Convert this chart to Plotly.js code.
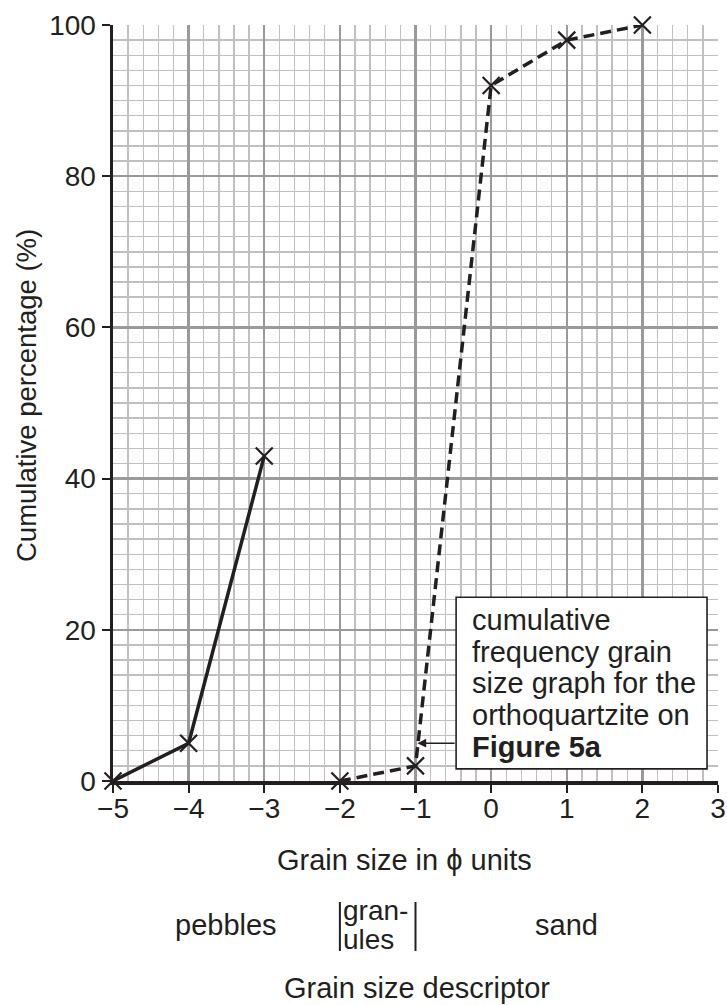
<!DOCTYPE html>
<html>
<head>
<meta charset="utf-8">
<script src="https://cdn.plot.ly/plotly-3.0.1.min.js"></script>
<style>
  html, body { margin: 0; padding: 0; background: #fff; }
  #chart { width: 727px; height: 1005px; }
</style>
</head>
<body>
<div id="chart"></div>
<script>
// Conglomerate sample: cumulative percentage against grain size (phi units)
const conglomeratePhi = [-5, -4, -3];
const conglomerateCum = [0, 5, 43];

// Orthoquartzite sample (Figure 5a)
const quartzitePhi = [-2, -1, 0, 1, 2];
const quartziteCum = [0, 2, 92, 98, 100];

// Axis ticks
const xTicks = [-5, -4, -3, -2, -1, 0, 1, 2, 3];
const yTicks = [0, 20, 40, 60, 80, 100];

// Grain size descriptor classes along the phi axis
const classNames = ['pebbles', 'sand'];
const classCentres = [-3.5, 1];
const granuleBounds = [-2, -1];

// Note box text lines
const noteLines = ['cumulative', 'frequency grain', 'size graph for the', 'orthoquartzite on', '<b>Figure 5a</b>'];

const INK = '#231f20';
const FONT = 'Liberation Sans, Arial, Helvetica, sans-serif';
const LABEL_SIZE = 29;

const markerStyle = { symbol: 'x-thin', size: 17, line: { width: 2.2, color: INK }, color: INK };

const traces = [
  {
    x: conglomeratePhi, y: conglomerateCum, type: 'scatter', mode: 'lines+markers',
    line: { color: INK, width: 3.5 }, marker: markerStyle, cliponaxis: false, hoverinfo: 'skip'
  },
  {
    x: quartzitePhi, y: quartziteCum, type: 'scatter', mode: 'lines+markers',
    line: { color: INK, width: 3.5, dash: '11px,6px' }, marker: markerStyle, cliponaxis: false, hoverinfo: 'skip'
  }
];

// Pixel helpers for placing text below the plot in paper coordinates
const M = { l: 113, r: 9, t: 25, b: 224 };
const plotH = 1005 - M.t - M.b;
const py = p => (1005 - M.b - p) / plotH;

const annotations = [];

annotations.push({
  xref: 'paper', yref: 'paper', x: (27 - M.l) / (727 - M.l - M.r), y: py(396),
  text: 'Cumulative percentage (%)', textangle: -90, showarrow: false,
  xanchor: 'center', yanchor: 'middle', font: { family: FONT, size: 27.5, color: INK }
});

annotations.push({
  xref: 'x', yref: 'paper', x: -1.15, y: py(860),
  text: 'Grain size in \u03D5 units', showarrow: false,
  xanchor: 'center', yanchor: 'middle', font: { family: FONT, size: LABEL_SIZE, color: INK }
});

classNames.forEach((name, i) => {
  annotations.push({
    xref: 'x', yref: 'paper', x: classCentres[i], y: py(925),
    text: name, showarrow: false, xanchor: 'center', yanchor: 'middle',
    font: { family: FONT, size: LABEL_SIZE, color: INK }
  });
});

['gran-', 'ules'].forEach((t, i) => {
  annotations.push({
    xref: 'x', yref: 'paper', x: granuleBounds[0] + 0.02, y: py(910 + i * 30),
    text: t, showarrow: false, xanchor: 'left', yanchor: 'middle',
    font: { family: FONT, size: 28, color: INK }
  });
});

annotations.push({
  xref: 'x', yref: 'paper', x: -0.98, y: py(988),
  text: 'Grain size descriptor', showarrow: false,
  xanchor: 'center', yanchor: 'middle', font: { family: FONT, size: LABEL_SIZE, color: INK }
});

// Note box lines
noteLines.forEach((t, i) => {
  annotations.push({
    xref: 'paper', yref: 'paper', x: (470 - M.l) / (727 - M.l - M.r), y: py(620 + i * 31.7),
    text: t, showarrow: false, xanchor: 'left', yanchor: 'middle',
    font: { family: FONT, size: 29, color: INK }
  });
});

// Arrow from the note box to the orthoquartzite curve
annotations.push({
  xref: 'x', yref: 'y', x: -0.975, y: 5,
  axref: 'x', ayref: 'y', ax: -0.463, ay: 5,
  text: '', showarrow: true, arrowhead: 2, arrowsize: 1.1, arrowwidth: 1.6, arrowcolor: INK
});

const shapes = [
  {
    type: 'rect', xref: 'x', yref: 'y', x0: -0.463, x1: 2.855, y0: 1.6, y1: 24.3,
    fillcolor: '#fff', line: { color: INK, width: 1.6 }, layer: 'above'
  }
];
granuleBounds.forEach(b => {
  shapes.push({
    type: 'line', xref: 'x', yref: 'paper', x0: b, x1: b, y0: py(902), y1: py(951),
    line: { color: INK, width: 2 }
  });
});

const layout = {
  width: 727, height: 1005,
  margin: M,
  paper_bgcolor: '#fff', plot_bgcolor: '#fff',
  showlegend: false,
  font: { family: FONT, color: INK, size: 27 },
  xaxis: {
    range: [-5, 3], tickvals: xTicks, ticktext: xTicks.map(v => v < 0 ? '\u2212' + Math.abs(v) : String(v)),
    ticks: 'outside', ticklen: 8, tickwidth: 2.2, tickcolor: INK, ticklabelstandoff: -8,
    tickfont: { family: FONT, size: 28, color: INK },
    showgrid: true, gridcolor: '#9a9a9a', gridwidth: 2.4,
    minor: { dtick: 0.2, showgrid: true, gridcolor: '#c0c0c0', gridwidth: 1.4, ticks: '' },
    showline: true, linecolor: INK, linewidth: 3.5, mirror: false,
    zeroline: false, fixedrange: true
  },
  yaxis: {
    range: [0, 100], tickvals: yTicks,
    ticks: 'outside', ticklen: 8, tickwidth: 2.2, tickcolor: INK,
    tickfont: { family: FONT, size: 28, color: INK },
    showgrid: true, gridcolor: '#9a9a9a', gridwidth: 2.4,
    minor: { dtick: 2, showgrid: true, gridcolor: '#c0c0c0', gridwidth: 1.4, ticks: '' },
    showline: true, linecolor: INK, linewidth: 3.5, mirror: false,
    zeroline: false, fixedrange: true
  },
  annotations: annotations,
  shapes: shapes
};

Plotly.newPlot('chart', traces, layout, { staticPlot: true, displayModeBar: false });
</script>
</body>
</html>
